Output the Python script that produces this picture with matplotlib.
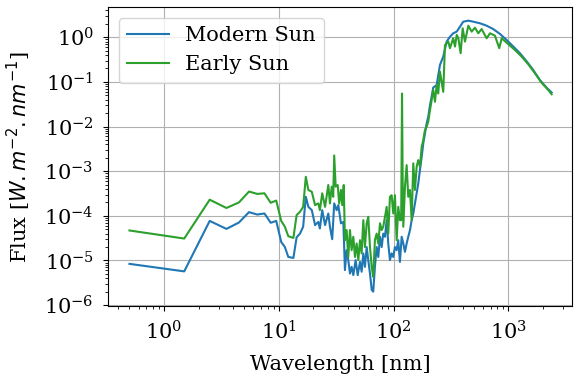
import matplotlib
matplotlib.use("Agg")
import matplotlib.pyplot as plt

# wavelength [nm] and flux [W m-2 nm-1]
modern_wl = [0.5, 1.5, 2.5, 3.5, 4.5, 5.5, 6.5, 7.5, 8.5, 9.5, 10.5, 11.3,
             12.1, 13.4, 14.3, 15.3, 16.3, 17.2, 18.1, 19.4, 20.7, 22.1,
             22.8, 23.9, 25.3, 27.0, 27.9, 29.2, 30.4, 31.9, 33.0, 34.8,
             36.5, 37.7, 39.0, 40.3, 41.7, 43.1, 44.6, 46.7, 48.7, 51.0,
             52.7, 54.5, 56.3, 58.3, 60.2, 62.3, 64.5, 66.5, 68.8, 71.2,
             73.6, 76.2, 78.8, 81.3, 84.2, 87.1, 89.9, 93.0, 96.2, 99.4,
             102.8, 106.4, 109.9, 113.6, 117.7, 121.6, 125.7, 130.0, 134.3,
             139.0, 143.8, 148.5, 153.6, 158.9, 164.1, 169.8, 175.8, 181.5,
             187.8, 194.2, 200.6, 207.5, 214.6, 221.8, 237.3, 253.6, 271,
             290, 310, 331, 355, 379, 405, 448, 494, 566, 647, 738, 845,
             967, 1105, 1262, 1443, 1648, 1884, 2157, 2383]
modern_flux = [8.4e-6, 5.7e-6, 7.7e-5, 5.1e-5, 7.1e-5, 1.21e-4, 1.07e-4,
               1.13e-4, 7.0e-5, 7.7e-5, 2.6e-5, 2.0e-5, 1.2e-5, 1.14e-5,
               3.3e-5, 4.0e-5, 5.7e-5, 2.67e-4, 1.59e-4, 1.34e-4, 6.2e-5,
               7.3e-5, 5.2e-5, 1.34e-4, 6.2e-5, 1.13e-4, 5.7e-5, 3.0e-5,
               1.9e-4, 1.34e-4, 1.74e-4, 6.8e-5, 7.3e-5, 6.1e-6, 1.7e-5,
               1.02e-5, 5.1e-6, 7.2e-6, 4.7e-6, 1.02e-5, 4.7e-6, 9.3e-6,
               5.6e-6, 1.44e-5, 7.2e-6, 2.0e-5, 1.02e-5, 5.1e-6, 2.2e-6,
               2.0e-6, 7.2e-6, 2.0e-5, 1.2e-5, 3.4e-5, 2.0e-5, 4.0e-5,
               3.4e-5, 8.0e-5, 2.4e-5, 1.02e-5, 1.44e-5, 1.2e-5, 2.0e-5,
               1.7e-5, 2.85e-5, 9.3e-6, 3.4e-5, 2.4e-5, 1.56e-5, 2.4e-5,
               3.4e-5, 4.8e-5, 8.0e-5, 1.13e-4, 1.9e-4, 3.2e-4, 5.3e-4,
               1.06e-3, 2.1e-3, 4.2e-3, 7.0e-3, 0.0118, 0.0166, 0.030,
               0.047, 0.075, 0.085, 0.24, 0.37, 0.80, 1.03, 1.23, 1.34,
               1.73, 2.24, 2.36, 2.24, 2.06, 1.82, 1.53, 1.19, 0.87, 0.62,
               0.44, 0.29, 0.185, 0.110, 0.074, 0.058]

early_wl = [0.5, 1.5, 2.5, 3.5, 4.5, 5.5, 6.5, 7.5, 8.5, 9.5, 10.5, 11.3,
            12.1, 13.4, 14.3, 15.3, 16.3, 17.2, 18.1, 19.4, 20.7, 22.1,
            22.8, 23.9, 25.3, 27.0, 27.9, 28.9, 29.8, 30.4, 31.3, 32.6,
            33.6, 34.8, 35.7, 36.8, 37.7, 39.0, 40.3, 41.7, 43.1, 44.6,
            46.1, 47.7, 49.3, 51.0, 52.7, 54.5, 56.3, 58.3, 60.2, 62.3,
            64.5, 66.5, 68.8, 71.2, 73.6, 76.2, 78.8, 81.3, 84.2, 87.1,
            89.9, 93.0, 96.2, 99.4, 102.8, 106.4, 109.9, 113.6, 116.5,
            118.5, 120.0, 121.6, 125.7, 130.0, 134.3, 139.0, 143.8, 148.5,
            153.6, 158.9, 164.1, 169.8, 175.8, 181.5, 187.8, 194.2, 200.6,
            207.5, 214.6, 221.8, 229.6, 237.3, 245.0, 253.6, 271, 280.5,
            299.8, 310, 331, 343, 355, 367, 384, 400, 419, 448, 479, 512,
            547, 585, 647, 692, 764, 833, 875, 1000, 1141, 1305, 1490,
            1706, 1950, 2228, 2383]
early_flux = [4.7e-5, 3.1e-5, 2.3e-4, 1.5e-4, 2.0e-4, 3.5e-4, 3.1e-4,
              3.2e-4, 1.96e-4, 2.2e-4, 7.7e-5, 5.7e-5, 3.5e-5, 3.2e-5,
              1.04e-4, 1.23e-4, 1.59e-4, 7.5e-4, 3.8e-4, 3.45e-4, 1.74e-4,
              1.9e-4, 1.34e-4, 3.2e-4, 1.59e-4, 4.9e-4, 1.9e-4, 4.5e-4,
              2.67e-4, 2.26e-3, 4.5e-4, 4.9e-4, 1.9e-4, 3.8e-4, 1.74e-4,
              4.9e-4, 2.85e-5, 4.8e-5, 1.2e-5, 4.8e-5, 1.7e-5, 3.4e-5,
              1.2e-5, 2.4e-5, 1.02e-5, 2.85e-5, 1.44e-5, 8.0e-5, 2.0e-5,
              6.8e-5, 9.5e-5, 2.0e-5, 7.2e-6, 4.3e-6, 2.85e-5, 4.0e-5,
              2.4e-5, 6.8e-5, 4.8e-5, 5.7e-5, 9.5e-5, 1.59e-4, 4.0e-5,
              2.67e-4, 2.9e-4, 1.13e-4, 2.9e-4, 2.85e-5, 1.59e-4, 8.0e-5,
              8.0e-5, 0.055, 6.3e-4, 5.7e-5, 4.5e-4, 1.37e-3, 2.67e-4,
              3.8e-4, 8.0e-5, 1.5e-3, 3.8e-4, 1.26e-3, 1.77e-3, 1.26e-3,
              3.5e-3, 5.0e-3, 8.4e-3, 9.9e-3, 0.013, 0.023, 0.039, 0.066,
              0.036, 0.085, 0.055, 0.17, 0.060, 0.67, 0.80, 0.57, 0.95,
              0.62, 1.13, 0.95, 0.44, 1.59, 0.80, 1.82, 1.34, 1.64, 1.23,
              1.53, 0.95, 1.23, 1.09, 0.57, 0.95, 0.70, 0.52, 0.37, 0.25,
              0.156, 0.096, 0.066, 0.053]


def main():
    plt.rcParams["font.family"] = "serif"
    plt.rcParams["font.size"] = 15

    fig = plt.figure(figsize=(5.81, 3.80), dpi=100)
    ax = fig.add_axes([0.1864, 0.1947, 0.7986, 0.7861])

    ax.plot(modern_wl, modern_flux, color="C0", label="Modern Sun")
    ax.plot(early_wl, early_flux, color="C2", label="Early Sun")

    ax.set_xscale("log")
    ax.set_yscale("log")
    ax.set_xlim(0.327, 3607)
    ax.set_ylim(9.55e-7, 4.7)
    ax.grid(True)
    ax.tick_params(axis="both", which="major", pad=7)
    ax.set_xlabel("Wavelength [nm]", labelpad=8)
    ax.set_ylabel("Flux [$W.m^{-2}.nm^{-1}$]", labelpad=8)
    ax.legend(loc="upper left")

    fig.savefig("out.png", dpi=100)


if __name__ == "__main__":
    main()
